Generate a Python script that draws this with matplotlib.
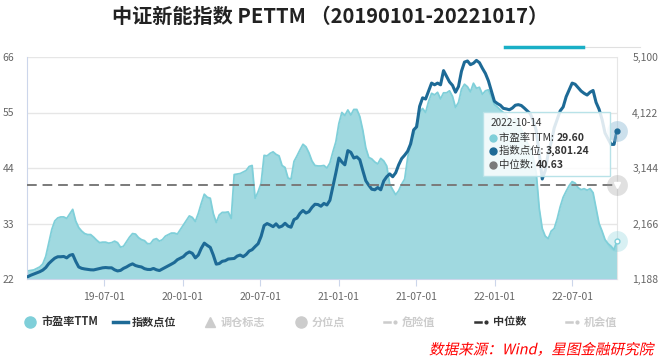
import numpy as np
import pandas as pd
import matplotlib
matplotlib.use('Agg')
import matplotlib.pyplot as plt
import matplotlib.dates as mdates
import matplotlib.patheffects as pe
from matplotlib.lines import Line2D
from matplotlib.patches import FancyBboxPatch
from matplotlib.transforms import Affine2D

plt.rcParams['font.family'] = ['Noto Sans CJK SC', 'DejaVu Sans']

# weekly readings, last point = 2022-10-14
dates = pd.date_range(end='2022-10-14', periods=199, freq='7D')
pe_ttm = [23.5, 23.6, 23.7, 23.8, 24.1, 24.4, 25.0, 26.5, 29.2, 31.8,
          33.5, 34.1, 34.3, 34.3, 34.0, 34.9, 35.8, 33.5, 32.2, 31.5,
          31.0, 30.8, 30.8, 30.3, 29.7, 29.2, 29.3, 29.3, 29.1, 29.2,
          29.5, 29.2, 28.3, 28.5, 29.4, 30.3, 31.0, 30.9, 30.2, 29.8,
          29.6, 29.0, 29.0, 29.8, 30.0, 29.5, 29.8, 30.5, 30.8, 31.1,
          31.1, 30.9, 31.8, 32.7, 33.6, 34.5, 34.2, 33.4, 35.0, 37.0,
          38.8, 38.2, 38.0, 35.0, 33.2, 34.7, 35.2, 35.2, 35.3, 34.0,
          42.7, 42.8, 42.9, 43.2, 43.5, 44.3, 44.5, 38.0, 39.3, 41.0,
          46.5, 46.4, 46.9, 47.2, 46.7, 46.4, 44.5, 44.1, 42.0, 41.8,
          45.3, 46.4, 47.6, 48.7, 48.2, 47.0, 45.4, 44.5, 44.4, 44.4,
          44.5, 44.0, 45.0, 47.2, 49.2, 52.8, 55.0, 54.4, 55.5, 54.5,
          55.6, 55.6, 54.2, 51.5, 48.0, 46.1, 45.8, 45.2, 44.8, 45.9,
          45.4, 44.4, 40.8, 39.7, 38.7, 39.5, 40.8, 41.8, 46.0, 49.1,
          50.4, 52.8, 55.1, 55.8, 55.0, 57.2, 58.8, 58.5, 59.0, 57.7,
          58.9, 58.9, 59.3, 58.2, 56.0, 57.0, 59.6, 60.6, 60.1, 59.1,
          60.8, 59.8, 60.0, 58.6, 59.3, 59.5, 58.2, 56.6, 56.1, 55.5,
          55.0, 54.5, 53.2, 53.3, 53.8, 53.0, 51.6, 50.5, 49.0, 48.0,
          46.0, 43.0, 36.0, 32.0, 30.5, 30.0, 31.5, 32.0, 33.9, 36.3,
          38.2, 39.4, 40.5, 41.3, 41.0, 40.1, 39.7, 39.9, 39.6, 39.9,
          39.1, 36.0, 33.0, 31.5, 29.8, 29.0, 28.5, 27.8, 29.60]
index_pts = [1220, 1229, 1255, 1276, 1295, 1317, 1345, 1390, 1460, 1510,
             1555, 1580, 1580, 1585, 1560, 1605, 1620, 1500, 1400, 1376,
             1365, 1357, 1350, 1348, 1360, 1374, 1385, 1390, 1385, 1385,
             1350, 1330, 1340, 1376, 1400, 1432, 1455, 1425, 1410, 1400,
             1370, 1357, 1355, 1374, 1350, 1337, 1365, 1395, 1420, 1450,
             1480, 1528, 1555, 1582, 1635, 1665, 1640, 1560, 1610, 1730,
             1820, 1780, 1745, 1611, 1450, 1460, 1500, 1510, 1540, 1545,
             1550, 1592, 1610, 1582, 1620, 1680, 1705, 1760, 1810, 1940,
             2130, 2165, 2140, 2110, 2160, 2100, 2120, 2170, 2120, 2100,
             2235, 2262, 2345, 2395, 2350, 2375, 2450, 2505, 2500, 2470,
             2520, 2492, 2575, 2820, 3060, 3320, 3250, 3200, 3450, 3420,
             3320, 3340, 3290, 3100, 2920, 2840, 2770, 2760, 2800, 2760,
             2915, 2990, 3040, 2990, 3060, 3200, 3310, 3370, 3440, 3570,
             3815, 3870, 4230, 4380, 4360, 4500, 4640, 4610, 4640, 4610,
             4860, 4760, 4660, 4600, 4480, 4580, 4850, 5010, 5030, 4965,
             4990, 5040, 5000, 4900, 4810, 4680, 4500, 4320, 4280, 4250,
             4195, 4185, 4170, 4200, 4250, 4260, 4245, 4200, 4150, 4100,
             3980, 3800, 3400, 2950, 3100, 3400, 3600, 3850, 4000, 4150,
             4220, 4400, 4520, 4640, 4620, 4560, 4500, 4460, 4430, 4480,
             4510, 4300, 4180, 4000, 3760, 3660, 3560, 3560, 3801.24]
median_pe = 40.63

left_ticks = [22, 33, 44, 55, 66]
right_ticks = [1188, 2166, 3144, 4122, 5100]
x_ticks = ['2019-07-01', '2020-01-01', '2020-07-01', '2021-01-01',
           '2021-07-01', '2022-01-01', '2022-07-01']

c_fill = '#a0d9e0'
c_pe = '#7fcfd9'
c_idx = '#1d6a96'
c_med = '#7a7a7a'
c_axis = '#ccd6eb'
c_tick = '#666666'

W, H = 666, 359
def fp(x, y):
    return x / W, 1 - y / H

fig = plt.figure(figsize=(6.66, 3.59), dpi=100)
ax = fig.add_axes([27 / W, 80 / H, 590 / W, 222 / H])
ax2 = ax.twinx()
ax3 = ax.twinx()

ax.fill_between(dates, 22, pe_ttm, color=c_fill, lw=0)
ax.plot(dates, pe_ttm, color=c_pe, lw=1.3)
ax2.plot(dates, index_pts, color=c_idx, lw=2.2)
ax3.axhline(median_pe, color=c_med, lw=1.4, ls=(0, (5, 3)))

ax.set_xlim(pd.Timestamp('2019-01-02'), pd.Timestamp('2022-10-14'))
ax.set_ylim(22, 66)
ax2.set_ylim(1188, 5100)
ax3.set_ylim(22, 66)
ax3.axis('off')

ax.set_yticks(left_ticks)
ax.set_yticklabels([str(v) for v in left_ticks])
ax2.set_yticks(right_ticks)
ax2.set_yticklabels([f'{v:,}' for v in right_ticks])
ax.set_xticks(pd.to_datetime(x_ticks))
ax.xaxis.set_major_formatter(mdates.DateFormatter('%y-%m-%d'))
ax.grid(axis='y', color='#e6e6e6', lw=1)
ax.set_axisbelow(True)

for a in (ax, ax2):
    for s in a.spines.values():
        s.set_visible(False)
ax.spines['left'].set_visible(True)
ax.spines['left'].set_color(c_axis)
ax.spines['bottom'].set_visible(True)
ax.spines['bottom'].set_color(c_axis)
ax2.spines['right'].set_visible(True)
ax2.spines['right'].set_color('#e6e6e6')
ax.tick_params(axis='y', length=0, pad=9, labelsize=7.5, labelcolor=c_tick)
ax.tick_params(axis='x', length=5, color=c_axis, pad=4, labelsize=7.5, labelcolor=c_tick)
ax2.tick_params(axis='y', length=0, pad=11, labelsize=7.5, labelcolor=c_tick)

# end-point markers
last = dates[-1]
ax2.plot(last, index_pts[-1], 'o', ms=15, color='#8fbcd6', alpha=0.45, mec='none', clip_on=False, zorder=5)
ax2.plot(last, index_pts[-1], 'o', ms=3.5, color=c_idx, clip_on=False, zorder=6)
ax3.plot(last, median_pe, 'o', ms=15, color='#999999', alpha=0.3, mec='none', clip_on=False, zorder=5)
ax3.plot(last, median_pe, 'v', ms=4, color='#ffffff', clip_on=False, zorder=6)
ax3.plot(last, pe_ttm[-1], 'o', ms=15, color=c_pe, alpha=0.3, mec='none', clip_on=False, zorder=5)
ax3.plot(last, pe_ttm[-1], 'o', ms=3.5, color='#ffffff', mec=c_pe, mew=1, clip_on=False, zorder=6)

# tooltip
ft = fig.transFigure
x0, y0 = fp(483, 176)
x1, y1 = fp(610, 112)
ax3.add_patch(FancyBboxPatch((x0, y0), x1 - x0, y1 - y0, boxstyle='square,pad=0',
                             transform=ft, fc=(1, 1, 1, 0.85), ec='#b8e2e8', lw=1,
                             clip_on=False, zorder=10))
ax3.text(*fp(491, 123), '2022-10-14', transform=ft, fontsize=7.2, color='#333333',
         va='center', zorder=11)
rows = [(c_pe, '市盈率TTM: ', f'{pe_ttm[-1]:.2f}', 138),
        (c_idx, '指数点位: ', f'{index_pts[-1]:,.2f}', 151),
        (c_med, '中位数: ', f'{median_pe:.2f}', 165)]
for col, lab, val, yy in rows:
    bx, by = fp(493, yy)
    ax3.plot([bx], [by], 'o', ms=5, color=col, transform=ft, clip_on=False, zorder=11)
    t = ax3.text(*fp(499, yy), lab, transform=ft, fontsize=7.5, color='#333333',
                 va='center', zorder=11)
    ax3.annotate(val, xy=(1, 0.5), xycoords=t, va='center', fontsize=7.5,
                 fontweight='bold', color='#333333', annotation_clip=False, zorder=12)

# top slider remnant
fig.add_artist(Line2D([fp(583, 0)[0], fp(640, 0)[0]], [fp(0, 47)[1]] * 2,
                      color='#e0e0e0', lw=0.8, transform=ft))
fig.add_artist(Line2D([fp(505, 0)[0], fp(583, 0)[0]], [fp(0, 47)[1]] * 2,
                      color='#1aafc6', lw=2.5, transform=ft))

# title
fig.text(*fp(330, 16), '中证新能指数 PETTM （20190101-20221017）', ha='center', va='center',
         fontsize=14.5, fontweight='bold', color='#222222')

# legend
ly = 322
def leg_text(x, s, col):
    fig.text(*fp(x, ly), s, fontsize=8, fontweight='bold', color=col, va='center')

fig.add_artist(Line2D([fp(30, ly)[0]], [fp(30, ly)[1]], marker='o', ms=8, color=c_pe,
                      transform=ft))
leg_text(41, '市盈率TTM', '#333333')
fig.add_artist(Line2D([fp(113, 0)[0], fp(128, 0)[0]], [fp(0, ly)[1]] * 2, color=c_idx, lw=2.5,
                      transform=ft))
leg_text(132, '指数点位', '#333333')
fig.add_artist(Line2D([fp(210, ly)[0]], [fp(210, ly)[1]], marker='^', ms=7, color='#cccccc',
                      transform=ft))
leg_text(221, '调仓标志', '#cccccc')
fig.add_artist(Line2D([fp(301, ly)[0]], [fp(301, ly)[1]], marker='o', ms=8, color='#cccccc',
                      transform=ft))
leg_text(312, '分位点', '#cccccc')
for xs, lab, col in [(384, '危险值', '#cccccc'), (475, '中位数', '#333333'), (566, '机会值', '#cccccc')]:
    fig.add_artist(Line2D([fp(xs, 0)[0], fp(xs + 6, 0)[0]], [fp(0, ly)[1]] * 2, color=col, lw=1.8,
                          transform=ft))
    fig.add_artist(Line2D([fp(xs + 11, ly)[0]], [fp(xs + 11, ly)[1]], marker='o', ms=2, color=col,
                          transform=ft))
    leg_text(xs + 18, lab, col)


class Skew(pe.AbstractPathEffect):
    def draw_path(self, renderer, gc, tpath, affine, rgbFace=None):
        renderer.draw_path(gc, tpath, affine + Affine2D().skew_deg(12, 0), rgbFace)


fig.text(*fp(653, 350), '数据来源：Wind，星图金融研究院', ha='right', va='center', fontsize=10.5,
         color='#ff0000', path_effects=[Skew()])

fig.savefig('out.png', dpi=100)
